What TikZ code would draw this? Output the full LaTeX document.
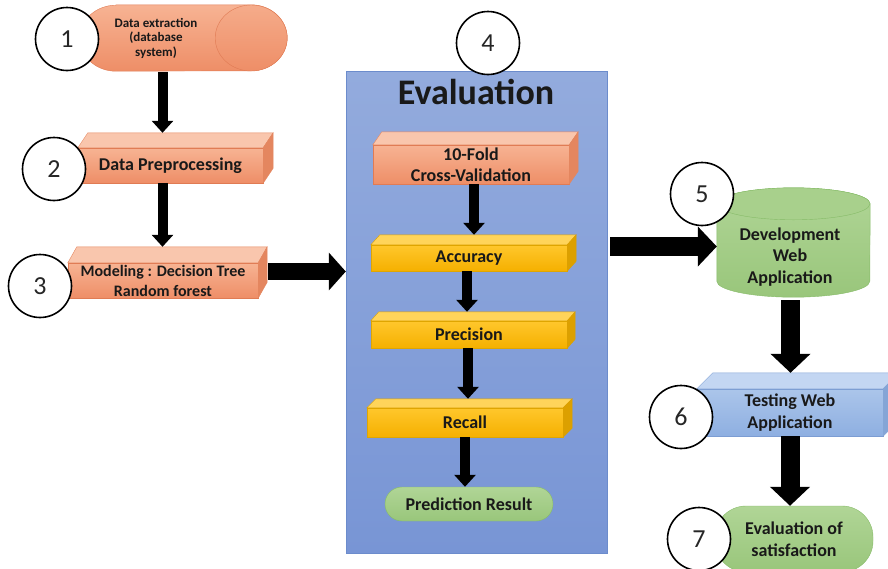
\documentclass[tikz,border=0pt]{standalone}
\usepackage{fontspec}
\setmainfont{Carlito}
\usetikzlibrary{arrows.meta,calc}

\definecolor{salmonT}{HTML}{F7B393}
\definecolor{salmonB}{HTML}{EE8E67}
\definecolor{salmonD}{HTML}{E07B54}
\definecolor{salmonL}{HTML}{F9C6AD}
\definecolor{salmonS}{HTML}{E4865F}
\definecolor{yellowT}{HTML}{FFC72C}
\definecolor{yellowB}{HTML}{F5B000}
\definecolor{yellowD}{HTML}{E0A600}
\definecolor{yellowL}{HTML}{FFD45A}
\definecolor{yellowS}{HTML}{DCA000}
\definecolor{blueT}{HTML}{ABC5EA}
\definecolor{blueB}{HTML}{8EAFE1}
\definecolor{blueD}{HTML}{7C9DD3}
\definecolor{blueL}{HTML}{C3D6F2}
\definecolor{blueS}{HTML}{85A5D6}
\definecolor{greenT}{HTML}{B0D596}
\definecolor{greenB}{HTML}{99C67B}
\definecolor{greenD}{HTML}{86BB68}
\definecolor{greenL}{HTML}{A8D08C}
\definecolor{panelT}{HTML}{93ABDD}
\definecolor{panelB}{HTML}{7895D5}
\definecolor{panelD}{HTML}{6C8CCC}

\tikzset{
  lbl/.style={font=\bfseries\fontsize{18}{21.5}\selectfont, align=center, text=black!90},
  salmonbox/.style={lbl, draw=salmonD, top color=salmonT, bottom color=salmonB, inner sep=0pt},
  yellowbox/.style={lbl, draw=yellowD, top color=yellowT, bottom color=yellowB, inner sep=0pt},
  bluebox/.style={lbl, draw=blueD, top color=blueT, bottom color=blueB, inner sep=0pt},
  stadium/.style={lbl, draw=greenD, top color=greenT, bottom color=greenB, inner sep=0pt},
  panel/.style={draw=panelD, top color=panelT, bottom color=panelB},
  num/.style={circle, draw, line width=1.6pt, fill=white, minimum size=63pt, inner sep=0pt,
    font=\fontsize{26}{26}\selectfont, text=black!85},
  arrS/.style={line width=10pt, -{Triangle[width=21pt,length=12pt]}},
  arrM/.style={line width=17pt, -{Triangle[width=37pt,length=17pt]}},
  arrB/.style={line width=19pt, -{Triangle[width=39pt,length=19pt]}}
}

% top and right face of a 3D box: node, dx, dy, top colour, side colour
\newcommand{\boxdepth}[5]{%
  \filldraw[fill=#4, draw=#5] (#1.north west) -- ([shift={(#2pt,#3pt)}]#1.north west)
    -- ([shift={(#2pt,#3pt)}]#1.north east) -- (#1.north east) -- cycle;
  \filldraw[fill=#5, draw=#5] (#1.north east) -- ([shift={(#2pt,#3pt)}]#1.north east)
    -- ([shift={(#2pt,#3pt)}]#1.south east) -- (#1.south east) -- cycle;}

\begin{document}
\begin{tikzpicture}[x=1pt,y=-1pt]
\path[use as bounding box, clip] (0,0) rectangle (888,568);

% evaluation panel
\node[panel, minimum width=261pt, minimum height=482pt] (eval) at (476.5,312) {};
\node[font=\bfseries\fontsize{36}{40}\selectfont, text=black!90] (evtitle) at (476,92) {Evaluation};

% 1: database
\node[minimum width=207pt, minimum height=66pt, inner sep=0pt] (db) at (183.5,38) {};
\path[draw=salmonD, top color=salmonT, bottom color=salmonB]
  ([xshift=36pt]db.north west) -- ([xshift=-36pt]db.north east)
  arc[start angle=90, end angle=-90, x radius=36pt, y radius=33pt]
  -- ([xshift=36pt]db.south west)
  arc[start angle=270, end angle=90, x radius=36pt, y radius=33pt] -- cycle;
\path[draw=salmonD, top color=salmonT!80!salmonB, bottom color=salmonB]
  ([xshift=-36pt]db.east) ellipse[x radius=36pt, y radius=33pt];
\node[font=\bfseries\fontsize{13}{14.5}\selectfont, align=center, text=black!90] (dbtxt)
  at (156,38) {Data extraction\\(database\\system)};

% 2, 3
\node[salmonbox, minimum width=185pt, minimum height=35pt] (b2) at (170.5,165.5) {Data Preprocessing};
\boxdepth{b2}{10}{15}{salmonL}{salmonS}
\node[salmonbox, minimum width=190pt, minimum height=35pt,
  font=\bfseries\fontsize{16}{20}\selectfont] (b3) at (163,280.5) {Modeling : Decision Tree\\Random forest};
\boxdepth{b3}{9}{16}{salmonL}{salmonS}

% inside the evaluation
\node[salmonbox, minimum width=196pt, minimum height=39pt] (cv) at (471,164.5) {10-Fold\\Cross-Validation};
\boxdepth{cv}{9}{13}{salmonL}{salmonS}
\node[yellowbox, minimum width=196pt, minimum height=26pt] (acc) at (469,258) {Accuracy};
\boxdepth{acc}{9}{10}{yellowL}{yellowS}
\node[yellowbox, minimum width=196pt, minimum height=27pt] (prec) at (469,334.5) {Precision};
\boxdepth{prec}{8}{9}{yellowL}{yellowS}
\node[yellowbox, minimum width=196pt, minimum height=29pt] (rec) at (465,422.5) {Recall};
\boxdepth{rec}{9}{9}{yellowL}{yellowS}
\node[stadium, minimum width=168pt, minimum height=34pt, rounded corners=17pt] (pred) at (469,504) {Prediction Result};

% 5: web application
\node[minimum width=153pt, minimum height=109pt, inner sep=0pt] (dev) at (793.5,242.5) {};
\path[draw=greenD, top color=greenT, bottom color=greenB]
  ([yshift=-16pt]dev.north west) -- ([yshift=16pt]dev.south west)
  arc[start angle=180, end angle=360, x radius=76.5pt, y radius=16pt]
  -- ([yshift=-16pt]dev.north east)
  arc[start angle=0, end angle=180, x radius=76.5pt, y radius=16pt] -- cycle;
\draw[greenD, fill=greenL] ([yshift=-16pt]dev.north) ellipse[x radius=76.5pt, y radius=16pt];
\node[lbl] (devtxt) at (790,257) {Development\\Web\\Application};

% 6, 7
\node[bluebox, minimum width=186pt, minimum height=47pt] (b6) at (790,412.5) {Testing Web\\Application};
\boxdepth{b6}{16}{16}{blueL}{blueS}
\node[stadium, minimum width=158pt, minimum height=66pt, rounded corners=31pt] (sat) at (794,539) {Evaluation of\\satisfaction};

% arrows
\draw[arrS] ($(db.south -| b2.north)+(-8,1)$) -- ($(b2.north)+(-8,-15)$);
\draw[arrS] ($(b2.south)+(-8,0)$) -- ($(b2.south |- b3.north)+(-8,-16)$);
\draw[arrM] ($(b3.east)+(10,-9)$) -- ($(b3.east -| eval.west)+(0,-9)$);
\draw[arrS] ($(cv.south)+(3,0)$) -- ($(cv.south |- acc.north)+(3,-10)$);
\draw[arrS] ($(acc.south)+(-2,0)$) -- ($(acc.south |- prec.north)+(-2,-9)$);
\draw[arrS] ($(prec.south)+(-1,0)$) -- ($(prec.south |- rec.north)+(-1,-9)$);
\draw[arrS] (rec.south) -- (rec.south |- pred.north);
\draw[arrB] ($(eval.east |- dev.west)+(3,4)$) -- ($(dev.west)+(0,4)$);
\draw[arrB] ($(dev.south)+(-3,3)$) -- ($(dev.south |- b6.north)+(-3,-16)$);
\draw[arrB] (b6.south) -- (b6.south |- sat.north);

% step numbers
\foreach \n/\x/\y in {1/67/39, 2/54/169, 3/40/286, 4/488/43, 5/702/194, 6/681/417, 7/699/539}
  \node[num] (c\n) at (\x,\y) {\n};
\end{tikzpicture}
\end{document}
